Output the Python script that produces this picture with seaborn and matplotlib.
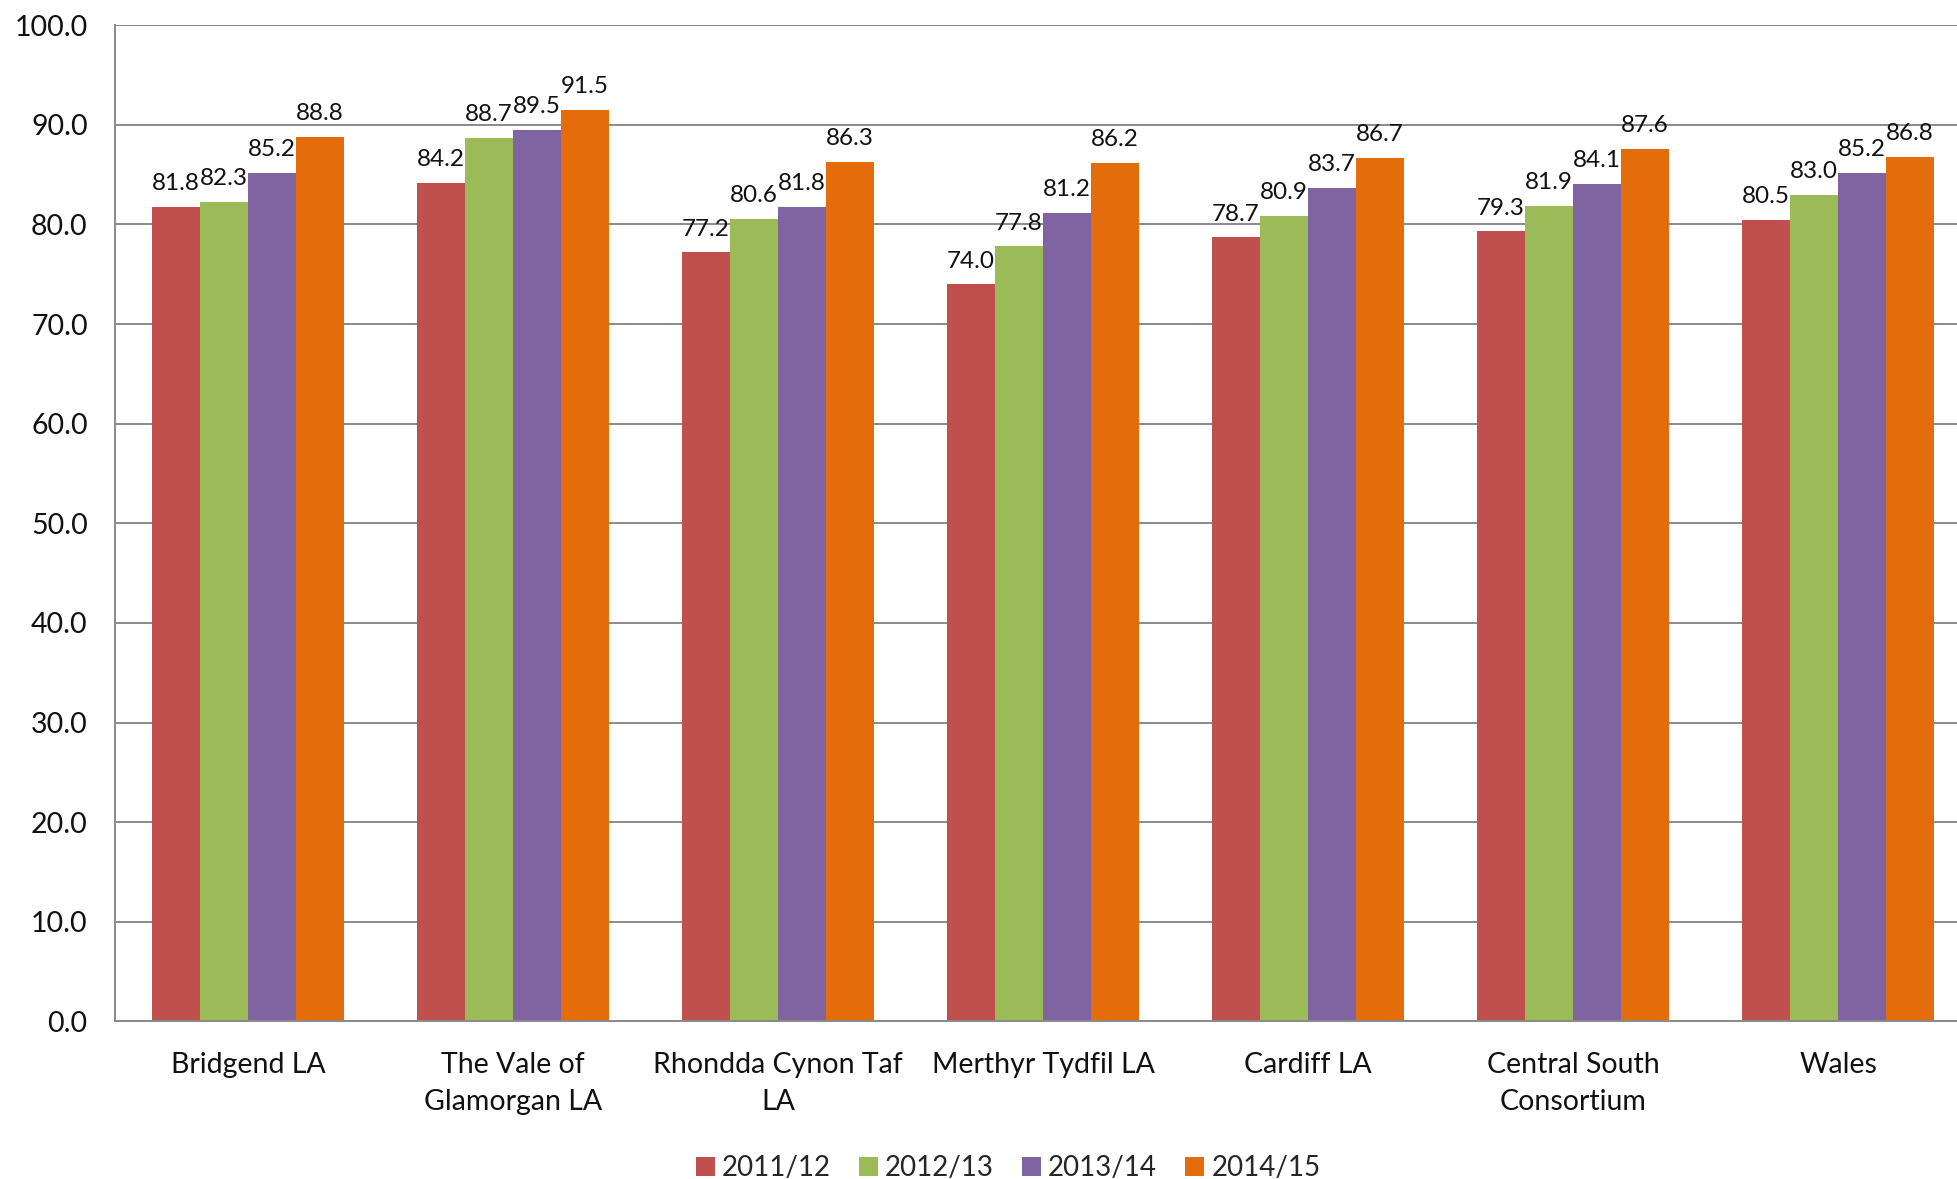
import matplotlib
matplotlib.use("Agg")
import matplotlib.pyplot as plt
import seaborn as sns
import pandas as pd
from matplotlib.patches import Patch

categories = ["Bridgend LA", "The Vale of\nGlamorgan LA", "Rhondda Cynon Taf\nLA",
              "Merthyr Tydfil LA", "Cardiff LA", "Central South\nConsortium", "Wales"]
years = ["2011/12", "2012/13", "2013/14", "2014/15"]
v_2011_12 = [81.8, 84.2, 77.2, 74.0, 78.7, 79.3, 80.5]
v_2012_13 = [82.3, 88.7, 80.6, 77.8, 80.9, 81.9, 83.0]
v_2013_14 = [85.2, 89.5, 81.8, 81.2, 83.7, 84.1, 85.2]
v_2014_15 = [88.8, 91.5, 86.3, 86.2, 86.7, 87.6, 86.8]
colors = ["#C0504D", "#9BBB59", "#8064A2", "#E46C0A"]

rows = []
for yr, vals in zip(years, [v_2011_12, v_2012_13, v_2013_14, v_2014_15]):
    for c, v in zip(categories, vals):
        rows.append({"cat": c, "year": yr, "value": v})
df = pd.DataFrame(rows)

sns.set_style("white")
plt.rcParams["font.family"] = ["Lato", "DejaVu Sans"]

fig = plt.figure(figsize=(19.57, 11.79), dpi=100)
ax = fig.add_axes([0.059, 0.1336, 0.948, 0.845])

sns.barplot(data=df, x="cat", y="value", hue="year", order=categories,
            hue_order=years, palette=colors, width=0.725, ax=ax,
            legend=False, errorbar=None, saturation=1, linewidth=0)

for cont in ax.containers:
    ax.bar_label(cont, fmt="%.1f", padding=9, fontsize=17.5, color="#111111")

ax.set_ylim(0, 100)
ax.set_xlim(-0.5, 6.5)
ax.set_yticks(range(0, 101, 10))
ax.set_yticklabels([f"{t:.1f}" for t in range(0, 101, 10)])
ax.yaxis.grid(True, color="#8a8a8a", linewidth=1.4)
ax.set_axisbelow(True)
ax.set_xlabel("")
ax.set_ylabel("")
for s in ["top", "right"]:
    ax.spines[s].set_visible(False)
for s in ["left", "bottom"]:
    ax.spines[s].set_color("#8a8a8a")
    ax.spines[s].set_linewidth(1.4)
ax.tick_params(axis="y", length=0, pad=20, labelsize=20.5, labelcolor="#111111")
ax.tick_params(axis="x", length=0, pad=22, labelsize=20.5, labelcolor="#111111")
for lab in ax.get_xticklabels():
    lab.set_linespacing(1.5)

handles = [Patch(facecolor=c, edgecolor="none", label=y) for c, y in zip(colors, years)]
fig.legend(handles=handles, loc="center", bbox_to_anchor=(1008 / 1957, 11 / 1179),
           ncol=4, frameon=False, fontsize=20, handlelength=0.7, handleheight=0.7,
           handletextpad=0.25, columnspacing=1.0)

fig.savefig("out.png", dpi=100)
